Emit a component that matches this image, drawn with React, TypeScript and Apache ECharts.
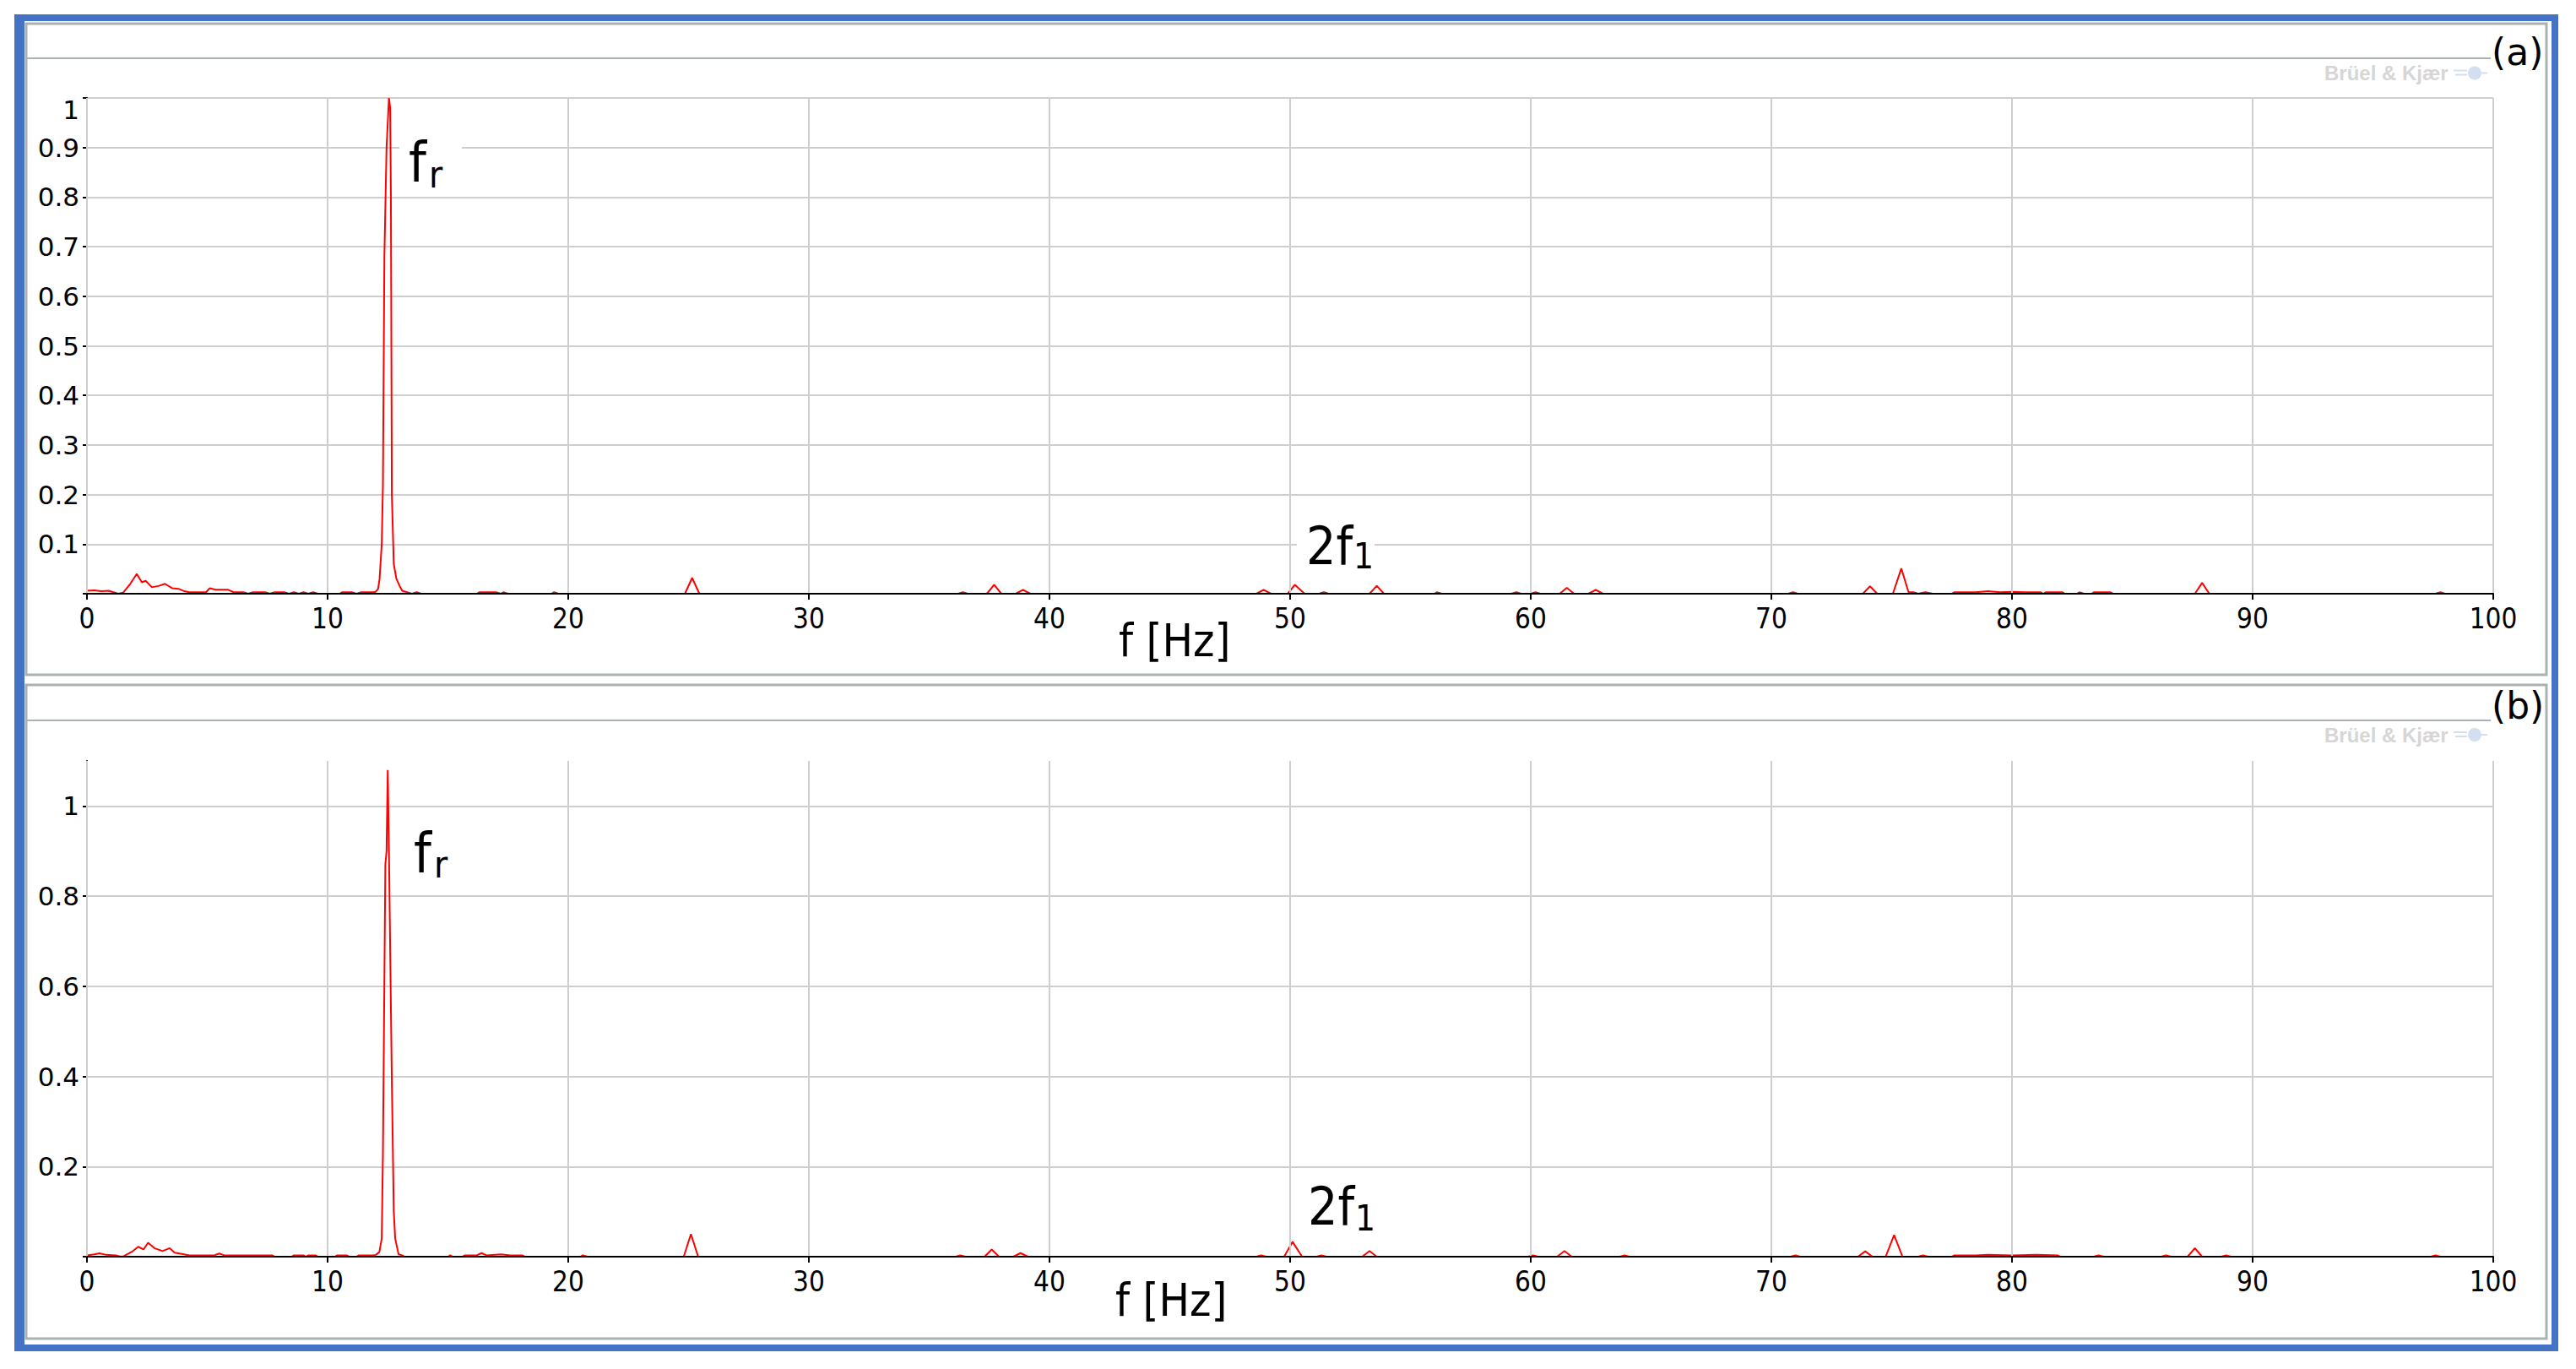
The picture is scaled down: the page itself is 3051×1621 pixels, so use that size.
import React, { useEffect, useRef } from "react";
import * as echarts from "echarts";

// ---- data (frequency [Hz], normalized amplitude) ----
const X_MIN = 0;
const X_MAX = 100;
const X_STEP = 10;

const Y_MAX_A = 1;
const Y_STEP_A = 0.1;
const Y_MAX_B = 1.1;
const Y_STEP_B = 0.2;

const spectrumA: [number, number][] = [
  [0, 0.006], [0.3, 0.007], [0.6, 0.005], [0.9, 0.006], [1.1, 0.003], [1.3, 0], [1.5, 0.002],
  [1.8, 0.02], [2.07, 0.04], [2.28, 0.023], [2.44, 0.026], [2.7, 0.013], [3.0, 0.016], [3.24, 0.02],
  [3.55, 0.011], [3.8, 0.01], [4.05, 0.005], [4.25, 0.003], [4.95, 0.003], [5.1, 0.011], [5.35, 0.008],
  [5.87, 0.008], [6.1, 0.003], [6.5, 0.003], [6.7, 0], [6.9, 0.003], [7.4, 0.003], [7.6, 0],
  [7.8, 0.003], [8.2, 0.003], [8.4, 0], [8.6, 0.003], [8.8, 0], [9.0, 0.003], [9.2, 0], [9.4, 0.003],
  [9.6, 0], [10.5, 0], [10.6, 0.003], [11.0, 0.003], [11.2, 0], [11.4, 0.003], [11.9, 0.003],
  [12.0, 0.004], [12.1, 0.01], [12.16, 0.03], [12.25, 0.1], [12.3, 0.22], [12.36, 0.68], [12.45, 0.9],
  [12.55, 1.0], [12.6, 0.98], [12.63, 0.81], [12.67, 0.2], [12.75, 0.06], [12.86, 0.03], [13.0, 0.015],
  [13.1, 0.006], [13.3, 0.003], [13.5, 0], [13.7, 0.003], [13.9, 0], [16.2, 0], [16.3, 0.003],
  [17.0, 0.003], [17.2, 0], [17.3, 0.003], [17.5, 0], [19.3, 0], [19.4, 0.003], [19.6, 0],
  [24.85, 0], [25.15, 0.032], [25.45, 0], [36.2, 0], [36.4, 0.003], [36.6, 0],
  [37.4, 0], [37.7, 0.018], [38.0, 0], [38.6, 0], [38.9, 0.008], [39.2, 0],
  [48.6, 0], [48.9, 0.008], [49.2, 0], [49.9, 0], [50.2, 0.018], [50.6, 0], [51.2, 0], [51.4, 0.003],
  [51.6, 0], [53.3, 0], [53.6, 0.016], [53.9, 0], [56.0, 0], [56.1, 0.003], [56.3, 0],
  [59.2, 0], [59.4, 0.003], [59.6, 0], [60.0, 0], [60.2, 0.003], [60.4, 0], [61.2, 0], [61.5, 0.012],
  [61.8, 0], [62.4, 0], [62.7, 0.008], [63.0, 0], [70.7, 0], [70.9, 0.003], [71.1, 0],
  [73.8, 0], [74.1, 0.015], [74.4, 0], [75.05, 0], [75.4, 0.051], [75.7, 0.003], [75.9, 0.003],
  [76.1, 0], [76.4, 0.003], [76.7, 0], [77.5, 0], [77.6, 0.003], [78.5, 0.003], [79.0, 0.005],
  [79.5, 0.003], [80.0, 0.004], [80.5, 0.003], [81.2, 0.003], [81.3, 0], [81.4, 0.003], [82.1, 0.003],
  [82.2, 0], [82.7, 0], [82.8, 0.003], [83.0, 0], [83.3, 0], [83.4, 0.003], [84.1, 0.003], [84.2, 0],
  [87.6, 0], [87.9, 0.022], [88.2, 0], [97.6, 0], [97.8, 0.003], [98.0, 0], [100, 0],
];

const spectrumB: [number, number][] = [
  [0, 0.003], [0.3, 0.005], [0.52, 0.0075], [0.8, 0.004], [1.2, 0.003], [1.4, 0], [1.53, 0.001],
  [1.9, 0.012], [2.13, 0.022], [2.35, 0.016], [2.54, 0.031], [2.8, 0.019], [3.14, 0.0125],
  [3.44, 0.019], [3.64, 0.009], [3.95, 0.006], [4.25, 0.003], [5.3, 0.003], [5.5, 0.007], [5.7, 0.003],
  [7.7, 0.003], [7.8, 0], [8.5, 0], [8.6, 0.003], [9.0, 0.003], [9.1, 0], [9.2, 0.003], [9.5, 0.003],
  [9.6, 0], [10.3, 0], [10.4, 0.003], [10.8, 0.003], [10.9, 0], [11.2, 0], [11.3, 0.003], [11.9, 0.003],
  [12.0, 0.004], [12.15, 0.01], [12.25, 0.04], [12.3, 0.23], [12.4, 0.87], [12.45, 0.9], [12.5, 1.08],
  [12.55, 0.9], [12.62, 0.6], [12.67, 0.39], [12.75, 0.1], [12.81, 0.04], [12.95, 0.005], [13.1, 0.003],
  [13.2, 0], [15.0, 0], [15.1, 0.003], [15.2, 0], [15.6, 0], [15.7, 0.003], [16.2, 0.003], [16.4, 0.008],
  [16.6, 0.003], [17.2, 0.005], [17.6, 0.003], [18.1, 0.003], [18.2, 0], [20.5, 0], [20.6, 0.003],
  [20.8, 0], [24.8, 0], [25.1, 0.05], [25.4, 0], [36.1, 0], [36.3, 0.003], [36.5, 0],
  [37.3, 0], [37.6, 0.016], [37.9, 0], [38.5, 0], [38.8, 0.008], [39.1, 0], [48.6, 0], [48.8, 0.003],
  [49.0, 0], [49.75, 0], [50.1, 0.033], [50.5, 0], [51.1, 0], [51.3, 0.003], [51.5, 0],
  [53.0, 0], [53.3, 0.0125], [53.6, 0], [59.9, 0], [60.1, 0.003], [60.3, 0], [61.1, 0], [61.4, 0.0125],
  [61.7, 0], [63.7, 0], [63.9, 0.003], [64.1, 0], [70.8, 0], [71.0, 0.003], [71.2, 0],
  [73.6, 0], [73.9, 0.012], [74.2, 0], [74.75, 0], [75.1, 0.048], [75.45, 0], [76.1, 0], [76.3, 0.003],
  [76.5, 0], [77.5, 0], [77.6, 0.003], [78.5, 0.003], [79.0, 0.004], [80.0, 0.003], [81.0, 0.004],
  [81.9, 0.003], [82.0, 0], [83.4, 0], [83.6, 0.003], [83.8, 0], [86.2, 0], [86.4, 0.003], [86.6, 0],
  [87.3, 0], [87.6, 0.019], [87.9, 0], [88.7, 0], [88.9, 0.003], [89.1, 0], [97.4, 0], [97.6, 0.003],
  [97.8, 0], [100, 0],
];

const FONT = "'DejaVu Sans Condensed', 'DejaVu Sans', sans-serif";
const LABEL_FONT = "'DejaVu Sans', sans-serif";
const GRID_COLOR = "#cfcfcf";
const PANEL_COLOR = "#a9b1b1";

function xAxisFor(gridIndex: number) {
  return {
    type: "value",
    gridIndex,
    min: X_MIN,
    max: X_MAX,
    interval: X_STEP,
    z: 3,
    axisLine: { show: true, onZero: false, lineStyle: { color: "#000", width: 2 } },
    axisTick: { show: true, inside: false, length: 7, lineStyle: { color: "#000", width: 2 } },
    axisLabel: { color: "#000", fontSize: 33, fontFamily: FONT, margin: 13 },
    splitLine: { show: true, lineStyle: { color: GRID_COLOR, width: 2 } },
  };
}

function yAxisFor(gridIndex: number, max: number, step: number, topShift: boolean) {
  return {
    type: "value",
    gridIndex,
    min: 0,
    max,
    interval: step,
    axisLine: { show: true, onZero: false, lineStyle: { color: "#000", width: 2 } },
    axisTick: { show: true, inside: false, length: 5, lineStyle: { color: "#000", width: 2 } },
    axisLabel: {
      color: "#000",
      fontSize: 31,
      fontFamily: LABEL_FONT,
      margin: 9,
      showMaxLabel: topShift ? true : false,
      formatter: (v: number) => {
        if (v === 0) return "";
        const s = String(+v.toFixed(2));
        if (topShift && Math.abs(v - max) < 1e-9) return "{t|" + s + "}";
        return s;
      },
      rich: {
        t: { fontSize: 31, fontFamily: LABEL_FONT, color: "#000", padding: [28, 0, 0, 0] },
      },
    },
    splitLine: { show: true, showMaxLine: topShift, lineStyle: { color: GRID_COLOR, width: 2 } },
  };
}

function txt(text: string, x: number, y: number, size: number, family: string, extra: any = {}) {
  return {
    type: "text",
    x,
    y,
    z: 20,
    style: {
      text,
      fontSize: size,
      fontFamily: family,
      fill: "#000",
      align: "left",
      textAlign: "left",
      verticalAlign: "middle",
      textVerticalAlign: "middle",
      ...extra,
    },
  };
}

function whiteBox(x: number, y: number, w: number, h: number) {
  return { type: "rect", z: 15, shape: { x, y, width: w, height: h }, style: { fill: "#fff" } };
}

function watermark(cy: number) {
  return [
    {
      type: "text",
      x: 2753,
      y: cy,
      z: 20,
      style: {
        text: "Brüel & Kjær",
        fontSize: 24,
        fontWeight: "bold",
        fontFamily: "'Liberation Sans', Arial, sans-serif",
        fill: "#d6d6d6",
        align: "left",
        verticalAlign: "middle",
        textVerticalAlign: "middle",
      },
    },
    { type: "circle", z: 20, shape: { cx: 2931, cy, r: 8 }, style: { fill: "#d3dff0" } },
    { type: "line", z: 20, shape: { x1: 2906, y1: cy - 3, x2: 2922, y2: cy - 3 }, style: { stroke: "#d3dff0", lineWidth: 2 } },
    { type: "line", z: 20, shape: { x1: 2908, y1: cy + 2, x2: 2922, y2: cy + 2 }, style: { stroke: "#d3dff0", lineWidth: 2 } },
    { type: "line", z: 20, shape: { x1: 2938, y1: cy, x2: 2946, y2: cy }, style: { stroke: "#d3dff0", lineWidth: 2 } },
  ];
}

export default function App() {
  const ref = useRef<HTMLDivElement>(null);

  useEffect(() => {
    if (!ref.current) return;
    const chart = echarts.init(ref.current, null, { renderer: "svg" });

    const graphic: any[] = [
      // outer blue frame
      { type: "rect", z: 10, shape: { x: 21, y: 21, width: 3005, height: 1575 }, style: { fill: "none", stroke: "#4472c4", lineWidth: 8 } },
      { type: "rect", z: 10, shape: { x: 17, y: 17, width: 12, height: 1583 }, style: { fill: "#4472c4" } },
      // panel (a)
      { type: "rect", z: 10, shape: { x: 31, y: 28, width: 2985, height: 771 }, style: { fill: "none", stroke: PANEL_COLOR, lineWidth: 3 } },
      { type: "line", z: 10, shape: { x1: 31, y1: 69, x2: 2950, y2: 69 }, style: { stroke: PANEL_COLOR, lineWidth: 2 } },
      // panel (b)
      { type: "rect", z: 10, shape: { x: 31, y: 811, width: 2985, height: 774 }, style: { fill: "none", stroke: PANEL_COLOR, lineWidth: 3 } },
      { type: "line", z: 10, shape: { x1: 31, y1: 853, x2: 2950, y2: 853 }, style: { stroke: PANEL_COLOR, lineWidth: 2 } },
      // panel tags
      txt("(a)", 2951, 61, 44, LABEL_FONT),
      txt("(b)", 2951, 835, 44, LABEL_FONT),
      ...watermark(86.5),
      ...watermark(870),
      // f_r (a)
      whiteBox(473, 148, 74, 84),
      txt("f", 484, 192, 66, FONT),
      txt("r", 508, 206, 44, FONT),
      // 2f_1 (a)
      whiteBox(1536, 603, 92, 82),
      txt("2f", 1547, 646, 62, FONT),
      txt("1", 1603, 658, 42, FONT),
      // axis title (a)
      txt("f [Hz]", 1325, 758, 54, FONT),
      // f_r (b)
      whiteBox(478, 968, 69, 80),
      txt("f", 490, 1010, 66, FONT),
      txt("r", 514, 1023, 44, FONT),
      // 2f_1 (b)
      whiteBox(1538, 1388, 92, 80),
      txt("2f", 1549, 1428, 62, FONT),
      txt("1", 1605, 1442, 42, FONT),
      // axis title (b)
      txt("f [Hz]", 1321, 1539, 54, FONT),
    ];

    const option: any = {
      animation: false,
      backgroundColor: "#ffffff",
      grid: [
        { left: 103, top: 116, width: 2850, height: 587, containLabel: false, outerBoundsMode: "none" },
        { left: 103, top: 901, width: 2850, height: 587, containLabel: false, outerBoundsMode: "none" },
      ],
      xAxis: [xAxisFor(0), xAxisFor(1)],
      yAxis: [yAxisFor(0, Y_MAX_A, Y_STEP_A, true), yAxisFor(1, Y_MAX_B, Y_STEP_B, false)],
      series: [
        {
          type: "line",
          xAxisIndex: 0,
          yAxisIndex: 0,
          data: spectrumA,
          showSymbol: false,
          symbol: "none",
          silent: true,
          clip: true,
          z: 2,
          lineStyle: { color: "#ff0000", width: 2 },
          itemStyle: { color: "#ff0000" },
        },
        {
          type: "line",
          xAxisIndex: 1,
          yAxisIndex: 1,
          data: spectrumB,
          showSymbol: false,
          symbol: "none",
          silent: true,
          clip: true,
          z: 2,
          lineStyle: { color: "#ff0000", width: 2 },
          itemStyle: { color: "#ff0000" },
        },
      ],
      graphic,
    };

    chart.setOption(option);
    return () => chart.dispose();
  }, []);

  return (
    <div
      ref={ref}
      style={{ position: "fixed", left: 0, top: 0, width: 3051, height: 1621, background: "#fff" }}
    />
  );
}
